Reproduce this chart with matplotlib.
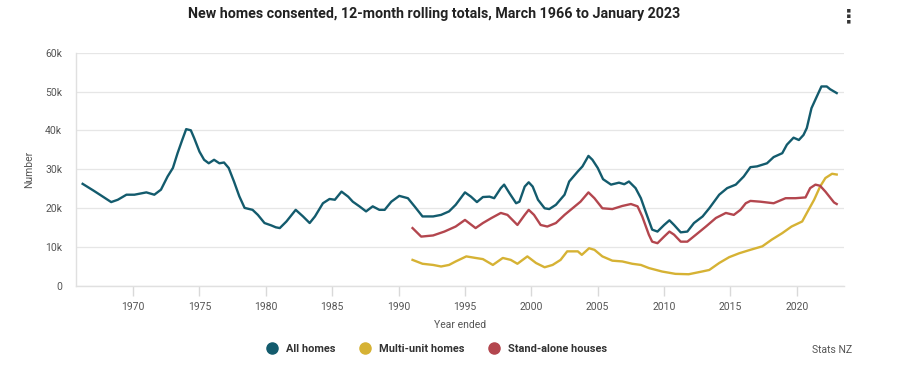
import matplotlib
matplotlib.use("Agg")
import matplotlib.pyplot as plt
from matplotlib.ticker import FuncFormatter
from matplotlib.lines import Line2D

# ---- data (year ended, fractional) ----
all_years = [1966.2, 1967.0, 1967.5, 1968.35, 1968.85, 1969.5, 1970.1, 1971.0, 1971.6, 1972.1,
             1972.6, 1973.0, 1973.35, 1973.7, 1974.0, 1974.35, 1974.6, 1975.0, 1975.35, 1975.7,
             1976.1, 1976.5, 1976.85, 1977.2, 1977.6, 1978.0, 1978.4, 1979.0, 1979.4, 1979.9,
             1980.4, 1980.75, 1981.05, 1981.55, 1982.25, 1982.8, 1983.3, 1983.7, 1984.3, 1984.8,
             1985.2, 1985.7, 1986.2, 1986.55, 1987.05, 1987.55, 1988.05, 1988.55, 1988.95, 1989.45,
             1990.05, 1990.7, 1991.2, 1991.8, 1992.6, 1993.2, 1993.8, 1994.3, 1995.0, 1995.45,
             1995.9, 1996.35, 1996.85, 1997.2, 1997.7, 1997.95, 1998.35, 1998.85, 1999.1, 1999.5,
             1999.8, 2000.1, 2000.5, 2001.0, 2001.35, 2001.85, 2002.5, 2002.85, 2003.5, 2003.85,
             2004.3, 2004.6, 2005.0, 2005.4, 2006.0, 2006.6, 2007.0, 2007.35, 2007.85, 2008.25,
             2008.6, 2009.1, 2009.5, 2010.0, 2010.4, 2010.75, 2011.25, 2011.75, 2012.25, 2012.9,
             2013.4, 2014.15, 2014.75, 2015.4, 2016.0, 2016.5, 2017.0, 2017.75, 2018.25, 2018.9,
             2019.25, 2019.75, 2020.15, 2020.5, 2020.75, 2021.1, 2021.5, 2021.85, 2022.25, 2022.5,
             2022.8, 2023.0]
all_homes = [26200, 24500, 23400, 21500, 22100, 23400, 23400, 24000, 23400, 24700,
             28100, 30300, 34100, 37500, 40300, 40000, 38000, 34500, 32400, 31500,
             32400, 31500, 31700, 30300, 26800, 23000, 20000, 19500, 18200, 16100,
             15500, 15000, 14800, 16500, 19500, 17800, 16100, 17800, 21200, 22300,
             22100, 24200, 22900, 21600, 20400, 19100, 20400, 19500, 19500, 21600,
             23100, 22500, 20400, 17800, 17800, 18200, 19100, 20800, 24000, 22900,
             21500, 22800, 22900, 22500, 25100, 26000, 23800, 21200, 21600, 25500,
             26600, 25500, 22100, 19900, 19700, 20800, 23400, 26800, 29400, 30700,
             33400, 32400, 30300, 27400, 26000, 26500, 26100, 26800, 25100, 22500,
             19100, 14400, 13900, 15600, 16800, 15600, 13700, 13900, 16100, 17800,
             19900, 23400, 25100, 26000, 28100, 30500, 30700, 31500, 33100, 34100,
             36300, 38100, 37500, 38800, 40600, 45700, 48700, 51300, 51300, 50600,
             50000, 49600]

multi_years = [1991.05, 1991.8, 1992.6, 1993.2, 1993.8, 1994.3, 1995.1, 1995.8, 1996.35, 1997.1,
               1997.85, 1998.45, 1998.95, 1999.7, 2000.35, 2001.0, 2001.6, 2002.2, 2002.7, 2003.5,
               2003.8, 2004.35, 2004.75, 2005.35, 2006.1, 2006.85, 2007.6, 2008.25, 2008.85, 2009.85,
               2010.85, 2011.85, 2012.85, 2013.4, 2014.15, 2014.9, 2015.65, 2016.5, 2017.4, 2018.1,
               2018.9, 2019.6, 2020.4, 2020.75, 2021.3, 2021.75, 2022.15, 2022.65, 2023.0]
multi_unit = [6600, 5600, 5300, 4900, 5300, 6200, 7500, 7100, 6800, 5300,
              7100, 6600, 5600, 7500, 5800, 4700, 5300, 6600, 8800, 8800,
              7900, 9600, 9200, 7500, 6400, 6200, 5600, 5300, 4500, 3600,
              3000, 2900, 3600, 4000, 5800, 7300, 8300, 9200, 10100, 11800,
              13500, 15200, 16500, 18700, 22100, 25500, 27700, 28800, 28600]

stand_years = [1991.05, 1991.7, 1992.6, 1993.45, 1994.3, 1995.0, 1995.8, 1996.35, 1997.0, 1997.7,
               1998.2, 1998.95, 1999.5, 1999.8, 2000.2, 2000.7, 2001.2, 2001.85, 2002.5, 2003.1,
               2003.7, 2004.3, 2004.75, 2005.35, 2006.1, 2006.85, 2007.5, 2008.0, 2008.35, 2008.85,
               2009.1, 2009.5, 2010.0, 2010.4, 2010.75, 2011.25, 2011.75, 2012.4, 2013.15, 2013.9,
               2014.65, 2015.25, 2015.75, 2016.15, 2016.5, 2017.25, 2018.25, 2019.15, 2019.9, 2020.65,
               2021.0, 2021.4, 2021.75, 2022.15, 2022.8, 2023.0]
stand_alone = [14800, 12600, 12900, 13900, 15200, 16900, 14800, 16100, 17400, 18700,
               18200, 15600, 18200, 19500, 18200, 15600, 15200, 16100, 18200, 19900,
               21600, 24000, 22500, 19900, 19700, 20500, 21000, 20400, 17800, 13100,
               11300, 10900, 12600, 13900, 13100, 11300, 11300, 13100, 15200, 17400,
               18700, 18200, 19500, 21200, 21800, 21600, 21200, 22500, 22500, 22700,
               25100, 26000, 25700, 24200, 21400, 21000]

series_names = ["All homes", "Multi-unit homes", "Stand-alone houses"]
colors = ["#135b6d", "#d6b234", "#b3464e"]
x_ticks = [1970, 1975, 1980, 1985, 1990, 1995, 2000, 2005, 2010, 2015, 2020]
y_ticks = [0, 10000, 20000, 30000, 40000, 50000, 60000]

plt.rcParams['font.family'] = ['Roboto', 'DejaVu Sans']

fig = plt.figure(figsize=(9, 3.72), dpi=100)
ax = fig.add_axes([76/900, 1 - 285.5/372, (844-76)/900, (285.5-52.7)/372])

ax.plot(all_years, all_homes, color=colors[0], lw=1.7, solid_joinstyle='round')
ax.plot(multi_years, multi_unit, color=colors[1], lw=1.7, solid_joinstyle='round')
ax.plot(stand_years, stand_alone, color=colors[2], lw=1.7, solid_joinstyle='round')

ax.set_xlim(1965.7, 2023.55)
ax.set_ylim(0, 60000)
ax.set_xticks(x_ticks)
ax.set_yticks(y_ticks)
ax.yaxis.set_major_formatter(FuncFormatter(lambda v, p: "0" if v == 0 else f"{int(v/1000)}k"))

ax.grid(axis='y', color='#e6e6e6', lw=0.9)
ax.set_axisbelow(True)
for s in ['top', 'right']:
    ax.spines[s].set_visible(False)
for s in ['left', 'bottom']:
    ax.spines[s].set_color('#e0e0e0')
    ax.spines[s].set_linewidth(1.0)
ax.tick_params(axis='x', length=7, width=1, color='#d9d9d9', labelsize=7.5, labelcolor='#555555', pad=5)
ax.tick_params(axis='y', length=0, labelsize=7.5, labelcolor='#555555', pad=10)

ax.set_ylabel("Number", fontsize=7.5, color='#555555', labelpad=8)
ax.set_xlabel("Year ended", fontsize=7.5, color='#555555', labelpad=6)

fig.text(434/900, 1 - 14/372, "New homes consented, 12-month rolling totals, March 1966 to January 2023",
         ha='center', va='center', fontsize=10.3, fontweight='bold', color='#222222')
fig.text(849/900, 1 - 17/372, "⋮", ha='center', va='center', fontsize=14, fontweight='bold', color='#333333',
         family=['DejaVu Sans'])

handles = [Line2D([], [], marker='o', ls='', markersize=8, color=c) for c in colors]
leg = fig.legend(handles, series_names, loc='center', bbox_to_anchor=(434/900, 1 - 349/372),
                 ncol=3, frameon=False, handletextpad=0.25, columnspacing=1.7,
                 prop={'size': 7.9, 'weight': 'bold'})
for t in leg.get_texts():
    t.set_color('#333333')

fig.text(852/900, 1 - 350/372, "Stats NZ", ha='right', va='center', fontsize=7.5, color='#555555')

fig.savefig("out.png", dpi=100)
